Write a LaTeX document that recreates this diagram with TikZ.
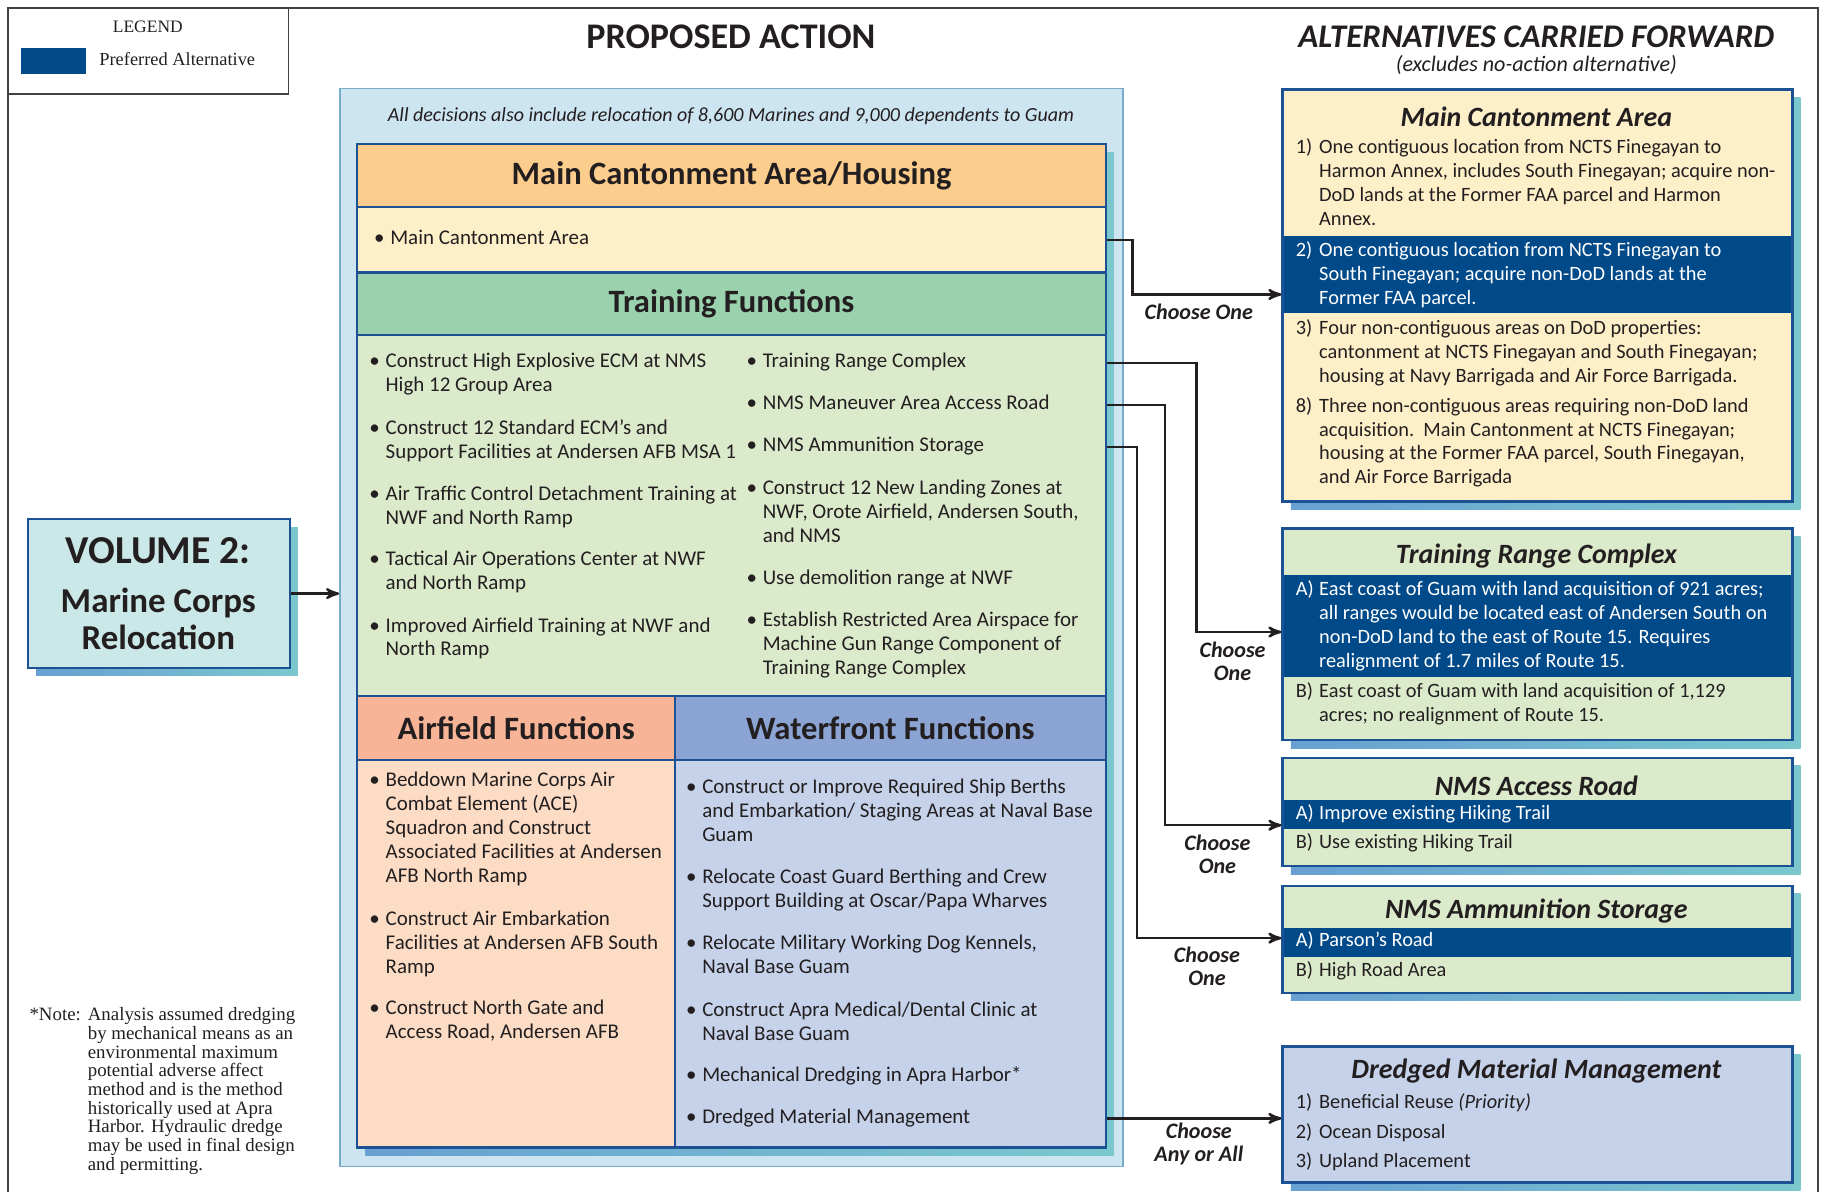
\documentclass[tikz,border=0pt]{standalone}
\usepackage{fontspec}
\setmainfont{Carlito}
\newfontfamily\notefont{Liberation Serif}
\usetikzlibrary{arrows,positioning,fit,calc}

\definecolor{ink}{RGB}{35,31,32}
\definecolor{navy}{RGB}{0,74,138}
\definecolor{edge}{RGB}{28,82,148}
\definecolor{paleblue}{RGB}{205,229,240}
\definecolor{paleedge}{RGB}{120,172,205}
\definecolor{shadeL}{RGB}{104,160,210}
\definecolor{shadeR}{RGB}{122,200,206}
\definecolor{orhead}{RGB}{252,205,141}
\definecolor{cream}{RGB}{253,239,200}
\definecolor{grhead}{RGB}{155,210,174}
\definecolor{grbody}{RGB}{220,234,204}
\definecolor{salhead}{RGB}{248,180,151}
\definecolor{salbody}{RGB}{252,220,196}
\definecolor{blhead}{RGB}{140,164,212}
\definecolor{blbody}{RGB}{197,210,234}
\definecolor{tealbox}{RGB}{203,232,232}

\newcommand{\itm}[1]{\textbullet\hspace{2.5pt}\begin{tabular}[t]{@{}l@{}}#1\end{tabular}}
\newcommand{\altitem}[2]{\makebox[10pt][l]{#1}\begin{tabular}[t]{@{}l@{}}#2\end{tabular}}

\begin{document}
\begin{tikzpicture}[x=0.5pt,y=-0.5pt,>=stealth',
    sec/.style={draw=edge,line width=1pt,inner sep=0pt},
    hd/.style={font=\fontsize{14}{16}\selectfont\bfseries,text=ink},
    ttl/.style={font=\fontsize{12}{14}\selectfont\bfseries\itshape,text=ink},
    txt/.style={font=\fontsize{9}{10.3}\selectfont,text=ink,anchor=base west,inner sep=0pt},
    atxt/.style={txt,font=\fontsize{8.75}{10.3}\selectfont},
    wtxt/.style={atxt,text=white},
    band/.style={fill=navy,inner sep=0pt},
    chs/.style={font=\fontsize{9.5}{10}\selectfont\bfseries\itshape,text=ink,align=center,inner sep=0pt},
    link/.style={->,line width=1pt,draw=ink},
    shd/.style={left color=shadeL,right color=shadeR}]
\useasboundingbox (0,0) rectangle (1568,1024);
% frame and legend
\draw[line width=0.8pt,draw=ink!85] (7,1024) -- (7,7) -- (1562,7) -- (1562,1024);
\node[draw=ink!85,line width=0.7pt,fit={(7,7)(248,81)},inner sep=0pt] (leg) {};
\node[font=\notefont\fontsize{7.5}{8}\selectfont,text=ink] (legt) at (127,23) {LEGEND};
\node[fill=navy,fit={(18,41)(74,64)},inner sep=0pt] (legsw) {};
\node[font=\notefont\fontsize{7.9}{9}\selectfont,text=ink,anchor=west,inner sep=0pt] (legp) at (85,51) {Preferred Alternative};

% titles
\node[font=\fontsize{15.5}{17}\selectfont\bfseries,text=ink] (pa) at (628,32) {PROPOSED ACTION};
\node[font=\fontsize{14.2}{16}\selectfont\bfseries\itshape,text=ink] (acf) at (1320,32) {ALTERNATIVES CARRIED FORWARD};
\node[font=\fontsize{9.5}{11}\selectfont\itshape,text=ink] (acfs) at (1320,56) {(excludes no-action alternative)};

% proposed action
\node[fill=paleblue,draw=paleedge,line width=0.6pt,fit={(292,76)(965,1002)},inner sep=0pt] (pac) {};
\node[font=\fontsize{8.6}{11}\selectfont\itshape,text=ink] (all) at (628,100) {All decisions also include relocation of 8,600 Marines and 9,000 dependents to Guam};
\shade[shd] (314,131) rectangle (957,993);
\node[sec,fill=orhead,fit={(307,124)(950,178)}] (mch) {};
\node[hd] (mcht) at (mch) {Main Cantonment Area/Housing};
\node[sec,fill=cream,fit={(307,178)(950,234)}] (mcb) {};
\node[txt] (m1) at (321,210) {\itm{Main Cantonment Area}};
\node[sec,fill=grhead,fit={(307,234)(950,288)}] (tfh) {};
\node[hd] (tfht) at (tfh) {Training Functions};
\node[sec,fill=grbody,fit={(307,288)(950,598)}] (tfb) {};
\node[txt] (t1) at (317,316) {\itm{Construct High Explosive ECM at NMS\\High 12 Group Area}};
\node[txt] (t2) at (317,373) {\itm{Construct 12 Standard ECM's and\\Support Facilities at Andersen AFB MSA 1}};
\node[txt] (t3) at (317,430) {\itm{Air Traffic Control Detachment Training at\\NWF and North Ramp}};
\node[txt] (t4) at (317,486) {\itm{Tactical Air Operations Center at NWF\\and North Ramp}};
\node[txt] (t5) at (317,543) {\itm{Improved Airfield Training at NWF and\\North Ramp}};
\node[txt] (r1) at (641,316) {\itm{Training Range Complex}};
\node[txt] (r2) at (641,352) {\itm{NMS Maneuver Area Access Road}};
\node[txt] (r3) at (641,388) {\itm{NMS Ammunition Storage}};
\node[txt] (r4) at (641,425) {\itm{Construct 12 New Landing Zones at\\NWF, Orote Airfield, Andersen South,\\and NMS}};
\node[txt] (r5) at (641,502) {\itm{Use demolition range at NWF}};
\node[txt] (r6) at (641,538) {\itm{Establish Restricted Area Airspace for\\Machine Gun Range Component of\\Training Range Complex}};
\node[sec,fill=salhead,fit={(307,598)(580,653)}] (afh) {};
\node[hd] (afht) at (afh) {Airfield Functions};
\node[sec,fill=blhead,fit={(580,598)(950,653)}] (wfh) {};
\node[hd] (wfht) at (wfh) {Waterfront Functions};
\node[sec,fill=salbody,fit={(307,653)(580,986)}] (afb) {};
\node[sec,fill=blbody,fit={(580,653)(950,986)}] (wfb) {};
\node[txt] (a1) at (317,676) {\itm{Beddown Marine Corps Air\\Combat Element (ACE)\\Squadron and Construct\\Associated Facilities at Andersen\\AFB North Ramp}};
\node[txt] (a2) at (317,795) {\itm{Construct Air Embarkation\\Facilities at Andersen AFB South\\Ramp}};
\node[txt] (a3) at (317,872) {\itm{Construct North Gate and\\Access Road, Andersen AFB}};
\node[txt] (w1) at (589,682) {\itm{Construct or Improve Required Ship Berths\\and Embarkation/ Staging Areas at Naval Base\\Guam}};
\node[txt] (w2) at (589,759) {\itm{Relocate Coast Guard Berthing and Crew\\Support Building at Oscar/Papa Wharves}};
\node[txt] (w3) at (589,816) {\itm{Relocate Military Working Dog Kennels,\\Naval Base Guam}};
\node[txt] (w4) at (589,873) {\itm{Construct Apra Medical/Dental Clinic at\\Naval Base Guam}};
\node[txt] (w5) at (589,929) {\itm{Mechanical Dredging in Apra Harbor*}};
\node[txt] (w6) at (589,965) {\itm{Dredged Material Management}};

% volume 2
\shade[shd] (31,453) rectangle (256,580);
\node[sec,fill=tealbox,fit={(24,446)(249,574)}] (vol) {};
\node[font=\fontsize{17}{18}\selectfont\bfseries,text=ink,inner sep=0pt] (v1) at (136,473) {VOLUME 2:};
\node[font=\fontsize{15}{14}\selectfont\bfseries,text=ink,inner sep=0pt] (v2) at (136,518) {Marine Corps};
\node[font=\fontsize{15}{14}\selectfont\bfseries,text=ink,inner sep=0pt] (v3) at (136,548) {Relocation};
\draw[link] (vol.east) -- (pac.west |- vol.east);

% alternatives
\shade[shd] (1109,84) rectangle (1547,438);
\node[sec,fill=cream,fit={(1102,77)(1540,431)}] (mca) {};
\node[band,fit={(1103,203)(1539,269)}] (mcap) {};
\node[ttl] (mcat) at (1320,100) {Main Cantonment Area};
\node[atxt] (mc1) at (1113,132) {\altitem{1)}{One contiguous location from NCTS Finegayan to\\Harmon Annex, includes South Finegayan; acquire non-\\DoD lands at the Former FAA parcel and Harmon\\Annex.}};
\node[wtxt] (mc2) at (1113,220) {\altitem{2)}{One contiguous location from NCTS Finegayan to\\South Finegayan; acquire non-DoD lands at the\\Former FAA parcel.}};
\node[atxt] (mc3) at (1113,287) {\altitem{3)}{Four non-contiguous areas on DoD properties:\\cantonment at NCTS Finegayan and South Finegayan;\\housing at Navy Barrigada and Air Force Barrigada.}};
\node[atxt] (mc8) at (1113,354) {\altitem{8)}{Three non-contiguous areas requiring non-DoD land\\acquisition.\ \ Main Cantonment at NCTS Finegayan;\\housing at the Former FAA parcel, South Finegayan,\\and Air Force Barrigada}};

\shade[shd] (1109,461) rectangle (1547,643);
\node[sec,fill=grbody,fit={(1102,454)(1540,636)}] (trc) {};
\node[band,fit={(1103,494)(1539,582)}] (trcp) {};
\node[ttl] (trct) at (1320,478) {Training Range Complex};
\node[wtxt] (trca) at (1113,512) {\altitem{A)}{East coast of Guam with land acquisition of 921 acres;\\all ranges would be located east of Andersen South on\\non-DoD land to the east of Route 15. Requires\\realignment of 1.7 miles of Route 15.}};
\node[atxt] (trcb) at (1113,599) {\altitem{B)}{East coast of Guam with land acquisition of 1,129\\acres; no realignment of Route 15.}};

\shade[shd] (1109,658) rectangle (1547,751);
\node[sec,fill=grbody,fit={(1102,651)(1540,744)}] (nar) {};
\node[band,fit={(1103,687)(1539,712)}] (narp) {};
\node[ttl] (nart) at (1320,675) {NMS Access Road};
\node[wtxt] (nara) at (1113,704) {\altitem{A)}{Improve existing Hiking Trail}};
\node[atxt] (narb) at (1113,729) {\altitem{B)}{Use existing Hiking Trail}};

\shade[shd] (1109,768) rectangle (1547,860);
\node[sec,fill=grbody,fit={(1102,761)(1540,853)}] (nas) {};
\node[band,fit={(1103,797)(1539,822)}] (nasp) {};
\node[ttl] (nast) at (1320,783) {NMS Ammunition Storage};
\node[wtxt] (nasa) at (1113,813) {\altitem{A)}{Parson's Road}};
\node[atxt] (nasb) at (1113,839) {\altitem{B)}{High Road Area}};

\shade[shd] (1109,906) rectangle (1547,1023);
\node[sec,fill=blbody,fit={(1102,899)(1540,1016)}] (dmm) {};
\node[ttl] (dmmt) at (1320,920) {Dredged Material Management};
\node[atxt] (dm1) at (1113,952) {\altitem{1)}{Beneficial Reuse \textit{(Priority)}}};
\node[atxt] (dm2) at (1113,978) {\altitem{2)}{Ocean Disposal}};
\node[atxt] (dm3) at (1113,1003) {\altitem{3)}{Upland Placement}};

% connectors
\coordinate (k1) at (973,253);
\draw[link] (mcb.east) -| (k1) -- (mca.west |- k1);
\node[chs] (c1) at (1030,268) {Choose One};
\coordinate (k2) at (1028,543);
\draw[link] (tfb.east |- r1) -| (k2) -- (trc.west |- k2);
\node[chs] (c2) at (1059,568) {Choose\\One};
\coordinate (k3) at (1001,709);
\draw[link] (tfb.east |- r2) -| (k3) -- (nar.west |- k3);
\node[chs] (c3) at (1046,734) {Choose\\One};
\coordinate (k4) at (977,806);
\draw[link] (tfb.east |- r3) -| (k4) -- (nas.west |- k4);
\node[chs] (c4) at (1037,830) {Choose\\One};
\draw[link] (wfb.east |- w6) -- (dmm.west |- w6);
\node[chs] (c5) at (1030,983) {Choose\\Any or All};

% note
\node[font=\notefont\fontsize{8.1}{8}\selectfont,text=ink,anchor=base west,inner sep=0pt] (fn) at (25,877) {\begin{tabular}[t]{@{}l@{\hspace{3pt}}l@{}}*Note: & Analysis assumed dredging\\ & by mechanical means as an\\ & environmental maximum\\ & potential adverse affect\\ & method and is the method\\ & historically used at Apra\\ & Harbor. Hydraulic dredge\\ & may be used in final design\\ & and permitting.\end{tabular}};
\end{tikzpicture}
\end{document}
